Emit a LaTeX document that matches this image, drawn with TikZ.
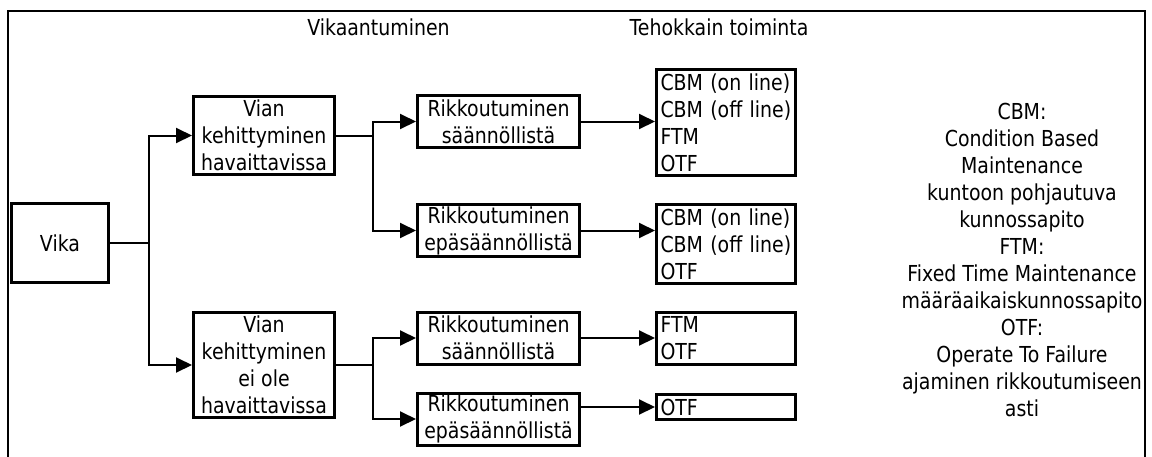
\documentclass[tikz,border=0pt]{standalone}
\usepackage{fontspec}
\setmainfont{DejaVu Sans}[FakeStretch=0.86]
\usetikzlibrary{arrows.meta}

\begin{document}
\begin{tikzpicture}[x=0.5pt, y=-0.5pt, font=\fontsize{11}{13.5}\selectfont,
		box/.style={draw, line width=1.5pt, inner sep=0pt, align=center},
		listbox/.style={draw, line width=1.5pt, inner xsep=2pt, inner ysep=0pt, align=left, text width=65.5pt, minimum width=69.5pt},
		link/.style={line width=1pt},
		arr/.style={line width=1pt, -{Triangle[length=8pt,width=7.5pt]}}]
		%%%%% START %%%%%
		
		\useasboundingbox (0,0) rectangle (1152,456);
		\draw[line width=1.2pt] (8,470) -- (8,11) -- (1145,11) -- (1145,470);
		
		\node (hdrfail) at (378.5,27) {Vikaantuminen};
		\node (hdract) at (719,27) {Tehokkain toiminta};
		
		\node[box, minimum width=48.5pt, minimum height=39.5pt] (vika) at (60,243) {Vika};
		
		\node[box, minimum width=70.5pt, minimum height=39pt] (devA) at (264,135.5) {Vian\\kehittyminen\\havaittavissa};
		\node[box, minimum width=70.5pt, minimum height=52.5pt] (devB) at (264,365) {Vian\\kehittyminen\\ei ole\\havaittavissa};
		
		\node[box, minimum width=81pt, minimum height=26pt] (r1) at (498.5,121.5) {Rikkoutuminen\\säännöllistä};
		\node[box, minimum width=81pt, minimum height=26pt] (r2) at (498.5,230.5) {Rikkoutuminen\\epäsäännöllistä};
		\node[box, minimum width=81pt, minimum height=26pt] (r3) at (498.5,338) {Rikkoutuminen\\säännöllistä};
		\node[box, minimum width=81pt, minimum height=26pt] (r4) at (498.5,419) {Rikkoutuminen\\epäsäännöllistä};
		
		\node[listbox, minimum height=53pt] (m1) at (726,122.5) {CBM (on line)\\CBM (off line)\\FTM\\OTF};
		\node[listbox, minimum height=39.5pt] (m2) at (726,244) {CBM (on line)\\CBM (off line)\\OTF};
		\node[listbox, minimum height=26pt] (m3) at (726,338.5) {FTM\\OTF};
		\node[listbox, minimum height=12.5pt] (m4) at (726,407) {OTF};
		
		\node[align=center] (legend) at (1022,259.5) {CBM:\\Condition Based\\Maintenance\\kuntoon pohjautuva\\kunnossapito\\FTM:\\Fixed Time Maintenance\\määräaikaiskunnossapito\\OTF:\\Operate To Failure\\ajaminen rikkoutumiseen\\asti};
		
		\coordinate (vsplit) at (149,243);
		\draw[link] (vika.east) -- (vsplit);
		\draw[arr] (vsplit) |- (devA.west);
		\draw[arr] (vsplit) |- (devB.west);
		
		\coordinate (asplit) at (373,135.5);
		\draw[link] (devA.east) -- (asplit);
		\draw[arr] (asplit) |- (r1.west);
		\draw[arr] (asplit) |- (r2.west);
		
		\coordinate (bsplit) at (373,365);
		\draw[link] (devB.east) -- (bsplit);
		\draw[arr] (bsplit) |- (r3.west);
		\draw[arr] (bsplit) |- (r4.west);
		
		\draw[arr] (r1.east) -- (r1.east -| m1.west);
		\draw[arr] (r2.east) -- (r2.east -| m2.west);
		\draw[arr] (r3.east) -- (r3.east -| m3.west);
		\draw[arr] (m4.west -| r4.east) -- (m4.west);
		
		%%%%% END %%%%%
	\end{tikzpicture}
\end{document}
